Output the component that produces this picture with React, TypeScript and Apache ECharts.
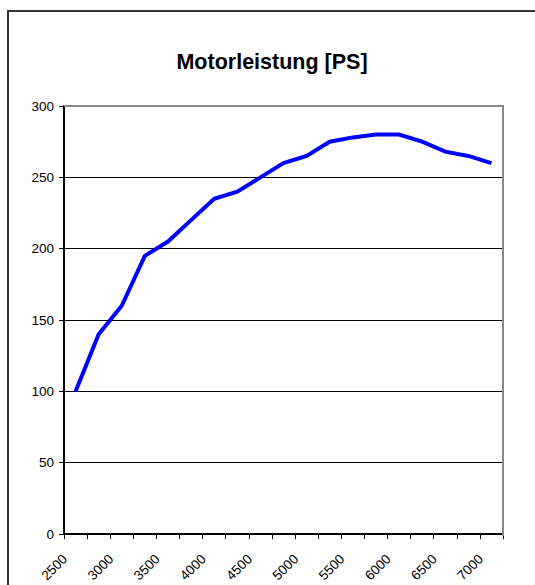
import React, { useEffect, useRef } from "react";
import * as echarts from "echarts";

const rpm = [
  "2500", "2750", "3000", "3250", "3500", "3750", "4000", "4250", "4500", "4750",
  "5000", "5250", "5500", "5750", "6000", "6250", "6500", "6750", "7000",
];
const leistung = [100, 140, 160, 195, 205, 220, 235, 240, 250, 260, 265, 275, 278, 280, 280, 275, 268, 265, 260];
const titleText = "Motorleistung [PS]";

export default function App() {
  const ref = useRef<HTMLDivElement>(null);
  useEffect(() => {
    if (!ref.current) return;
    const chart = echarts.init(ref.current, undefined, { renderer: "svg" });
    const font = "Liberation Sans, Arial, sans-serif";
    chart.setOption({
      animation: false,
      backgroundColor: "#fff",
      title: {
        text: titleText,
        left: 267,
        textAlign: "center",
        top: 46,
        textStyle: { fontFamily: font, fontSize: 21.5, fontWeight: "bold", color: "#000" },
      },
      graphic: [
        {
          type: "rect",
          shape: { x: 8, y: 11, width: 540, height: 590 },
          style: { fill: "none", stroke: "#333", lineWidth: 2 },
          silent: true,
        },
        {
          type: "polyline",
          shape: { points: [[64, 106], [503, 106], [503, 536]] },
          style: { stroke: "#888", lineWidth: 2, fill: "none" },
          silent: true,
          z: 10,
        },
      ],
      grid: { left: 64, top: 106, right: 32, bottom: 49, containLabel: false },
      xAxis: {
        type: "category",
        data: rpm,
        boundaryGap: true,
        axisLine: { lineStyle: { color: "#000", width: 2 } },
        axisTick: { show: true, length: 5, interval: 0, lineStyle: { color: "#000", width: 1 } },
        axisLabel: {
          interval: 1,
          rotate: 45,
          margin: 12,
          color: "#000",
          fontFamily: font,
          fontSize: 13.5,
          padding: [0, 15, 0, 0],
        },
        splitLine: { show: false },
      },
      yAxis: {
        type: "value",
        min: 0,
        max: 300,
        interval: 50,
        axisLine: { show: true, lineStyle: { color: "#000", width: 2 } },
        axisTick: { show: true, length: 5, lineStyle: { color: "#000" } },
        axisLabel: { color: "#000", fontFamily: font, fontSize: 13.5, margin: 10 },
        splitLine: { show: true, lineStyle: { color: "#000", width: 1 } },
      },
      series: [
        {
          type: "line",
          data: leistung,
          symbol: "none",
          lineStyle: { color: "#0000FF", width: 4, join: "miter" },
          z: 5,
        },
      ],
    });
    return () => chart.dispose();
  }, []);
  return (
    <div style={{ position: "fixed", left: 0, top: 0, width: 535, height: 585 }}>
      <div ref={ref} style={{ width: 535, height: 585 }} />
    </div>
  );
}
